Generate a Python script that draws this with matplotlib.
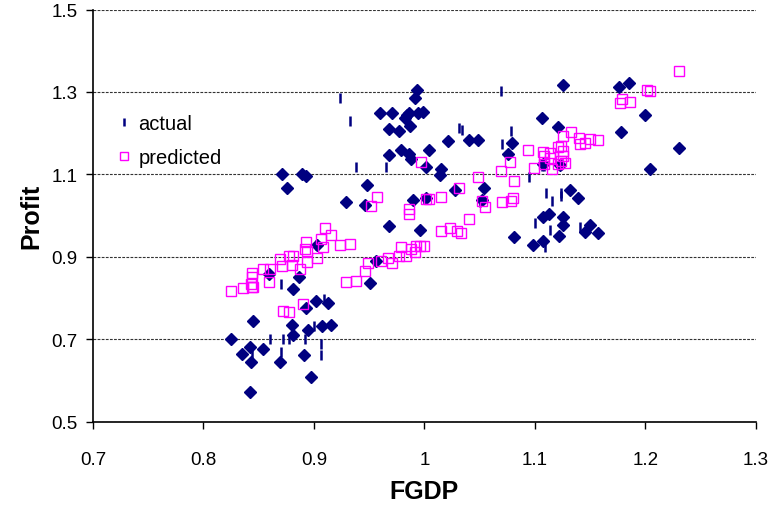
import matplotlib
matplotlib.use('Agg')
import matplotlib.pyplot as plt

plt.rcParams['font.family'] = ['Liberation Sans', 'DejaVu Sans']

# observed points (diamonds, no legend entry)
hist_fgdp = [0.825, 0.842, 0.835, 0.854, 0.843, 0.869, 0.891, 0.897, 0.842, 0.845,
             0.880, 0.895, 0.907, 0.915, 0.881, 0.859, 0.886, 0.881, 0.893, 0.902,
             0.913, 0.903, 0.871, 0.876, 0.889, 0.893, 0.929, 0.948, 0.946, 0.968,
             0.951, 0.956, 0.990, 0.996, 1.001, 0.993, 0.991, 0.960, 0.971, 0.982,
             0.984, 0.986, 0.994, 0.999, 0.968, 0.977, 0.987, 1.021, 1.040, 1.048,
             1.079, 1.076, 0.968, 0.979, 0.986, 0.988, 1.004, 1.001, 1.015, 1.014,
             1.028, 1.054, 1.052, 1.125, 1.176, 1.185, 1.106, 1.121, 1.200, 1.178,
             1.230, 1.204, 1.123, 1.107, 1.132, 1.139, 1.107, 1.113, 1.125, 1.125,
             1.150, 1.098, 1.107, 1.122, 1.145, 1.157, 1.081]
hist_profit = [0.700, 0.682, 0.665, 0.677, 0.645, 0.645, 0.661, 0.609, 0.572, 0.744,
               0.734, 0.722, 0.733, 0.735, 0.710, 0.859, 0.850, 0.821, 0.775, 0.793,
               0.789, 0.929, 1.102, 1.068, 1.101, 1.095, 1.033, 1.074, 1.025, 0.975,
               0.836, 0.891, 1.037, 0.966, 1.042, 1.305, 1.285, 1.248, 1.250, 1.238,
               1.244, 1.250, 1.248, 1.251, 1.209, 1.205, 1.217, 1.181, 1.183, 1.183,
               1.176, 1.150, 1.146, 1.160, 1.150, 1.138, 1.158, 1.119, 1.113, 1.099,
               1.063, 1.068, 1.038, 1.318, 1.311, 1.321, 1.237, 1.215, 1.245, 1.204,
               1.165, 1.113, 1.124, 1.126, 1.061, 1.042, 0.997, 1.003, 0.997, 0.977,
               0.977, 0.928, 0.938, 0.951, 0.961, 0.959, 0.948]

# actual series
actual_fgdp = [0.924, 0.933, 1.069, 0.938, 0.965, 1.031, 1.034, 1.078, 1.070, 1.095,
               1.110, 1.124, 1.124, 1.115, 1.100, 1.114, 1.109, 1.141, 1.106, 1.108,
               1.122, 1.124, 1.000, 1.050, 0.902, 0.957, 0.870, 0.909, 0.900, 0.860,
               0.872, 0.877, 0.892, 0.906, 0.870, 0.906, 0.844]
actual_profit = [1.285, 1.229, 1.303, 1.117, 1.119, 1.212, 1.208, 1.206, 1.173, 1.093,
                 1.055, 1.056, 1.047, 1.035, 0.982, 0.965, 0.923, 0.973, 1.121, 1.121,
                 1.124, 1.122, 1.040, 1.033, 0.929, 0.890, 0.834, 0.797, 0.733, 0.700,
                 0.700, 0.700, 0.700, 0.688, 0.668, 0.662, 0.664]

# predicted series
pred_fgdp = [0.825, 0.836, 0.844, 0.843, 0.844, 0.845, 0.844, 0.854, 0.860, 0.859,
             0.869, 0.871, 0.877, 0.880, 0.881, 0.887, 0.894, 0.903, 0.892, 0.894,
             0.893, 0.906, 0.908, 0.910, 0.915, 0.924, 0.933, 0.872, 0.877, 0.890,
             0.929, 0.938, 0.946, 0.949, 0.961, 0.967, 0.971, 0.977, 0.979, 0.983,
             0.988, 0.991, 0.992, 0.996, 1.000, 1.015, 1.023, 1.029, 1.033, 0.997,
             0.957, 0.952, 0.986, 0.986, 1.001, 1.004, 1.015, 1.031, 1.048, 1.040,
             1.052, 1.055, 1.069, 1.077, 1.081, 1.070, 1.078, 1.080, 1.094, 1.230,
             1.201, 1.204, 1.177, 1.179, 1.186, 1.099, 1.125, 1.133, 1.140, 1.141,
             1.145, 1.150, 1.157, 1.107, 1.108, 1.114, 1.114, 1.121, 1.124, 1.125,
             1.125, 1.124, 1.121, 1.108, 1.115, 1.127]
pred_profit = [0.817, 0.824, 0.827, 0.834, 0.852, 0.826, 0.862, 0.870, 0.870, 0.840,
               0.894, 0.877, 0.902, 0.880, 0.901, 0.870, 0.888, 0.896, 0.920, 0.915,
               0.935, 0.943, 0.925, 0.969, 0.953, 0.928, 0.931, 0.769, 0.765, 0.785,
               0.839, 0.842, 0.865, 0.885, 0.890, 0.896, 0.886, 0.901, 0.923, 0.903,
               0.919, 0.911, 0.927, 0.927, 0.927, 0.962, 0.971, 0.963, 0.957, 1.131,
               1.046, 1.024, 1.016, 1.005, 1.040, 1.040, 1.044, 1.068, 1.093, 0.992,
               1.036, 1.022, 1.109, 1.129, 1.085, 1.033, 1.036, 1.042, 1.159, 1.352,
               1.305, 1.302, 1.274, 1.283, 1.276, 1.115, 1.192, 1.202, 1.188, 1.173,
               1.176, 1.187, 1.183, 1.155, 1.145, 1.152, 1.141, 1.167, 1.170, 1.157,
               1.145, 1.133, 1.125, 1.125, 1.114, 1.127]

x_ticks = [0.7, 0.8, 0.9, 1.0, 1.1, 1.2, 1.3]
x_tick_labels = ['0.7', '0.8', '0.9', '1', '1.1', '1.2', '1.3']
y_ticks = [0.5, 0.7, 0.9, 1.1, 1.3, 1.5]

NAVY = '#000080'
MAGENTA = '#FF00FF'

fig = plt.figure(figsize=(7.71, 5.06), dpi=100)
ax = fig.add_axes([0.1206, 0.1646, 0.8599, 0.8146])

ax.plot(hist_fgdp, hist_profit, linestyle='none', marker='D', markersize=6,
        color=NAVY, markeredgecolor=NAVY, zorder=3)
ax.plot(actual_fgdp, actual_profit, linestyle='none', marker='|', markersize=7,
        markeredgewidth=1.8, color=NAVY, label='actual', zorder=4)
ax.plot(pred_fgdp, pred_profit, linestyle='none', marker='s', markersize=6.5,
        markerfacecolor='none', markeredgecolor=MAGENTA, markeredgewidth=1.0,
        label='predicted', zorder=5)

ax.set_xlim(0.7, 1.3)
ax.set_ylim(0.5, 1.5)
ax.set_xticks(x_ticks)
ax.set_xticklabels(x_tick_labels)
ax.set_yticks(y_ticks)
ax.set_yticklabels(['%.1f' % v for v in y_ticks])
ax.tick_params(axis='both', direction='out', length=5, width=1, labelsize=13.5,
               color='black', pad=6)
ax.tick_params(axis='x', pad=16)

# dashed horizontal grid
ax.yaxis.grid(True, linestyle=(0, (2.5, 1.2)), color='#333333', linewidth=0.8)
ax.set_axisbelow(True)

for side in ['top', 'right']:
    ax.spines[side].set_visible(False)
for side in ['left', 'bottom']:
    ax.spines[side].set_linewidth(1.2)
    ax.spines[side].set_color('black')

ax.set_xlabel('FGDP', fontsize=18, fontweight='bold', labelpad=8)
ax.set_ylabel('Profit', fontsize=18, fontweight='bold', labelpad=6)

leg = ax.legend(loc='upper left', bbox_to_anchor=(0.005, 0.79), frameon=False,
                fontsize=14.5, handletextpad=0.2, labelspacing=0.75,
                handlelength=1.0, markerscale=0.8)

plt.savefig('out.png', dpi=100)
